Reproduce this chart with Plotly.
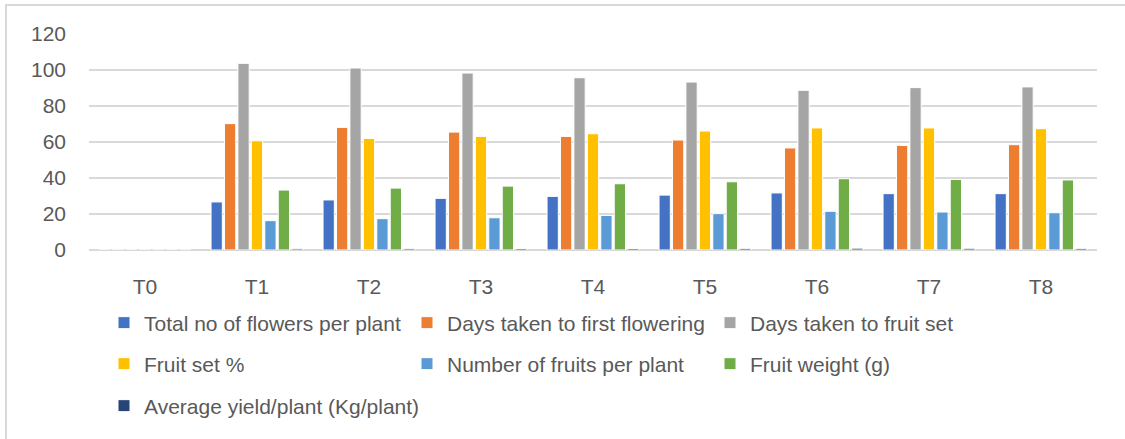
import plotly.graph_objects as go

categories = ["T0", "T1", "T2", "T3", "T4", "T5", "T6", "T7", "T8"]

total_flowers = [0, 26.7, 27.8, 28.7, 29.8, 30.5, 31.7, 31.3, 31.3]
days_first_flowering = [0, 70.2, 68.1, 65.5, 63.1, 61.1, 56.7, 58.1, 58.5]
days_fruit_set = [0, 103.7, 101.1, 98.3, 95.7, 93.3, 88.7, 90.2, 90.6]
fruit_set_pct = [0, 60.7, 62.0, 63.1, 64.6, 66.1, 67.8, 67.8, 67.4]
fruits_per_plant = [0, 16.3, 17.4, 17.9, 19.2, 20.2, 21.5, 21.1, 20.7]
fruit_weight = [0, 33.3, 34.4, 35.5, 36.8, 37.9, 39.6, 39.2, 38.9]
avg_yield = [0, 0.7, 0.75, 0.8, 0.85, 0.9, 1.0, 0.95, 0.9]

series_names = [
    "Total no of flowers per plant",
    "Days taken to first flowering",
    "Days taken to fruit set",
    "Fruit set %",
    "Number of fruits per plant",
    "Fruit weight (g)",
    "Average yield/plant (Kg/plant)",
]
series_values = [total_flowers, days_first_flowering, days_fruit_set, fruit_set_pct,
                 fruits_per_plant, fruit_weight, avg_yield]
colors = ["#4472C4", "#ED7D31", "#A5A5A5", "#FFC000", "#5B9BD5", "#70AD47", "#264478"]
legend_ids = ["legend", "legend", "legend", "legend2", "legend2", "legend2", "legend3"]

FONT = "Liberation Sans, Arial, sans-serif"
TXT = "#595959"

fig = go.Figure()
for name, vals, col, lg in zip(series_names, series_values, colors, legend_ids):
    fig.add_trace(go.Bar(
        x=categories, y=vals, name=name,
        marker=dict(color=col, line=dict(color="white", width=1)),
        legend=lg,
    ))

L, R, T, B = 89, 28, 34, 189
W, H = 1125, 439
pw = W - L - R
ph = H - T - B

def px_x(p):
    return (p - L) / pw

def px_y(p):
    return (H - B - p) / ph

def leg(y, ew):
    return dict(orientation="h", xanchor="left", yanchor="middle",
                x=px_x(104), y=px_y(y),
                font=dict(family=FONT, size=21, color=TXT),
                entrywidth=ew, bgcolor="rgba(0,0,0,0)", tracegroupgap=0,
                itemclick=False)

fig.update_layout(
    width=W, height=H,
    margin=dict(l=L, r=R, t=T, b=B),
    paper_bgcolor="white", plot_bgcolor="white",
    barmode="group", bargap=0.16, bargroupgap=0.16,
    font=dict(family=FONT, size=21, color=TXT),
    legend=leg(323, 258),
    legend2=leg(364, 258),
    legend3=leg(406, 420),
    xaxis=dict(showgrid=False, showline=False, zeroline=False, ticks="",
               ticklabelstandoff=22, tickfont=dict(family=FONT, size=21, color=TXT)),
    yaxis=dict(range=[0, 120], dtick=20, showgrid=True, gridcolor="#D9D9D9",
               gridwidth=1.7, zeroline=True, zerolinecolor="#D9D9D9", zerolinewidth=1.7,
               showline=False, ticks="", ticklabelstandoff=22,
               tickfont=dict(family=FONT, size=21, color=TXT)),
    shapes=[dict(type="rect", xref="paper", yref="paper",
                 x0=px_x(6), x1=px_x(1140), y0=px_y(460), y1=px_y(5),
                 line=dict(color="#D9D9D9", width=2), layer="below")],
)

fig.write_html("out.html", config={"displayModeBar": False},
               post_script="document.body.style.margin='0';document.body.style.padding='0';")
